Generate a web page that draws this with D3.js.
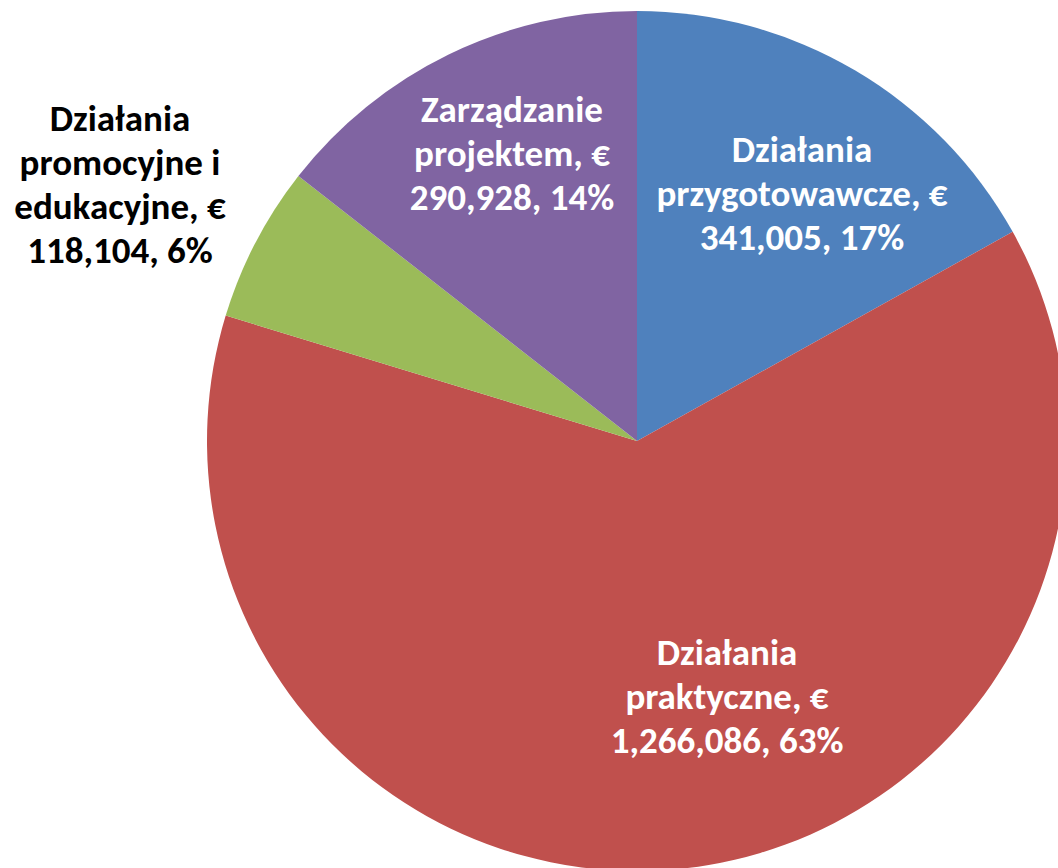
<!DOCTYPE html>
<html lang="pl">
  <head>
    <meta charset="utf-8" />
    <script src="https://d3js.org/d3.v7.min.js"></script>
    <style>
      body {
        margin: 0;
        background: #fff;
      }
      .slice-label {
        font-family: Carlito, Calibri, "Lato", sans-serif;
        font-weight: bold;
        font-size: 37px;
      }
    </style>
  </head>
  <body>
    <svg id="pie" width="1058" height="868"></svg>
    <script>
      // data
      const categories = [
        ["Działania", "przygotowawcze, €"],
        ["Działania", "praktyczne, €"],
        ["Działania", "promocyjne i", "edukacyjne, €"],
        ["Zarządzanie", "projektem, €"],
      ];
      const values = [341005, 1266086, 118104, 290928];
      const valueLabels = ["341,005", "1,266,086", "118,104", "290,928"];
      const percentLabels = ["17%", "63%", "6%", "14%"];

      const colors = ["#4F81BD", "#C0504D", "#9BBB59", "#8064A2"];
      const textColors = ["#fff", "#fff", "#000", "#fff"];
      // label centre offsets from pie centre (Excel "best fit" positions)
      const labelOffsets = [
        [165, -248],
        [90, 255],
        [-517, -257],
        [-125, -288],
      ];

      const svg = d3.select("#pie");
      const cx = 637;
      const cy = 441;
      const radius = 430;
      const lineHeight = 44;

      const g = svg.append("g").attr("transform", `translate(${cx},${cy})`);

      const pie = d3.pie().sort(null).value((d) => d);
      const arc = d3.arc().innerRadius(0).outerRadius(radius);
      const arcs = pie(values);

      g.selectAll("path")
        .data(arcs)
        .enter()
        .append("path")
        .attr("d", arc)
        .attr("fill", (d, i) => colors[i]);

      arcs.forEach((d, i) => {
        const allLines = categories[i].concat([
          `${valueLabels[i]}, ${percentLabels[i]}`,
        ]);
        const n = allLines.length;
        const text = g
          .append("text")
          .attr("class", "slice-label")
          .attr("text-anchor", "middle")
          .attr("fill", textColors[i])
          .attr("x", labelOffsets[i][0])
          .attr("y", labelOffsets[i][1] - ((n - 1) * lineHeight) / 2);

        allLines.forEach((line, j) => {
          text
            .append("tspan")
            .attr("x", labelOffsets[i][0])
            .attr("dy", j === 0 ? "0.35em" : lineHeight)
            .text(line);
        });
      });
    </script>
  </body>
</html>
